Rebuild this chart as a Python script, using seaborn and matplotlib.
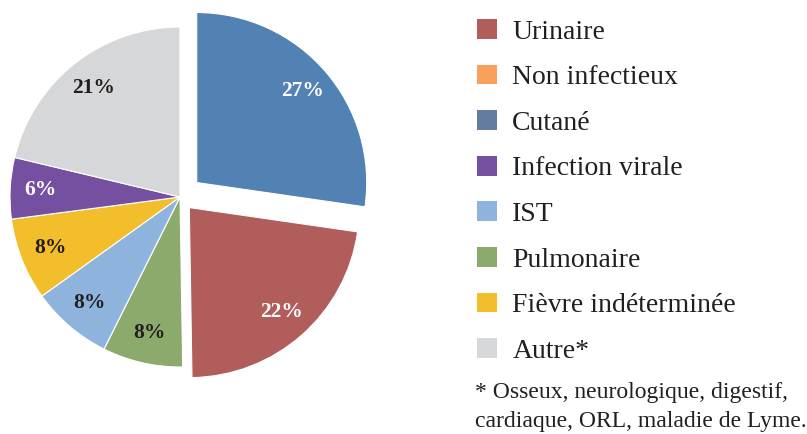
import matplotlib
matplotlib.use("Agg")
import matplotlib.pyplot as plt
import seaborn as sns
from matplotlib.patches import Patch

# ---- data (shares; labels are rounded %) ----
categories = ["Urinaire", "Non infectieux", "Cutané", "Infection virale",
              "IST", "Pulmonaire", "Fièvre indéterminée", "Autre*"]
values = [22.4, 0, 27.2, 5.8, 7.7, 7.6, 7.8, 21.2]
pie_order = ["Cutané", "Urinaire", "Pulmonaire", "IST",
             "Fièvre indéterminée", "Infection virale", "Autre*"]
footnote_lines = ["* Osseux, neurologique, digestif,",
                  "cardiaque, ORL, maladie de Lyme."]

# ---- styles ----
slice_colors = {
    "Urinaire": "#B05D5B",
    "Non infectieux": "#F9A05A",
    "Cutané": "#5281B3",
    "Infection virale": "#7650A0",
    "IST": "#8EB4DE",
    "Pulmonaire": "#8CAA6C",
    "Fièvre indéterminée": "#F2BE2C",
    "Autre*": "#D6D7D9",
}
legend_colors = dict(slice_colors)
legend_colors["Cutané"] = "#657CA1"
explode_map = {"Cutané": 0.13, "Urinaire": 0.083}
white_labels = {"Cutané", "Urinaire", "Infection virale"}
dark = "#231F20"

sns.set_theme(style="white")
plt.rcParams["font.family"] = ["Liberation Serif", "DejaVu Serif"]

W, H = 807, 434
fig = plt.figure(figsize=(W / 100, H / 100), dpi=100)
ax = fig.add_axes([0, 0, 1, 1])

val_map = dict(zip(categories, values))
pie_vals = [val_map[c] for c in pie_order]
pal = sns.color_palette([slice_colors[c] for c in pie_order])

wedges, texts, autotexts = ax.pie(
    pie_vals,
    colors=pal,
    startangle=90,
    counterclock=False,
    explode=[explode_map.get(c, 0) for c in pie_order],
    autopct=lambda p: f"{p:.0f}%",
    pctdistance=0.82,
    wedgeprops=dict(edgecolor="white", linewidth=0.8),
    textprops=dict(fontsize=15.5, fontweight="bold"),
)
for c, t in zip(pie_order, autotexts):
    t.set_color("white" if c in white_labels else dark)

R = 170.0
cx, cy = 180.0, 237.0
ax.set_xlim(-cx / R, (W - cx) / R)
ax.set_ylim(-cy / R, (H - cy) / R)
ax.set_aspect("equal", adjustable="datalim")
ax.axis("off")

handles = [Patch(facecolor=legend_colors[c], edgecolor="none", label=c)
           for c in categories]
fig.legend(handles=handles, loc="upper left",
           bbox_to_anchor=(477 / W, 1 - 19 / H), frameon=False,
           fontsize=20, handlelength=0.72, handleheight=0.72,
           handletextpad=0.55, labelspacing=0.72, borderpad=0,
           borderaxespad=0, labelcolor=dark)

fig.text(475 / W, 1 - 398 / H, footnote_lines[0], fontsize=17,
         va="baseline", ha="left", color=dark)
fig.text(475 / W, 1 - 427 / H, footnote_lines[1], fontsize=17,
         va="baseline", ha="left", color=dark)

fig.savefig("out.png", dpi=100)
